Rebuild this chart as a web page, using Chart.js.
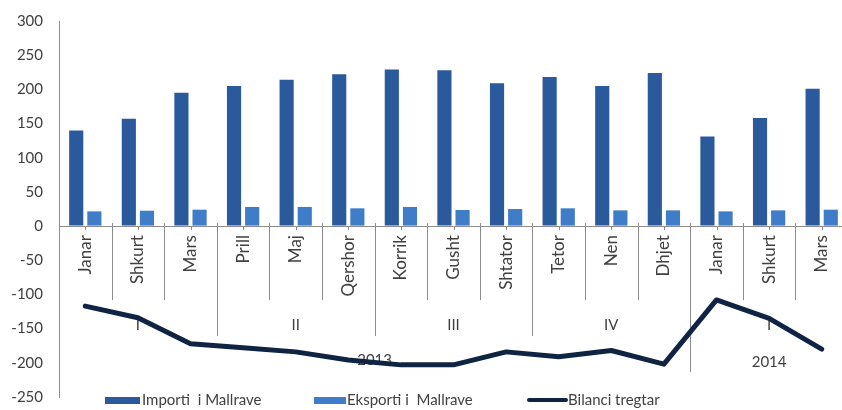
<!DOCTYPE html>
<html lang="sq">
<head>
  <meta charset="UTF-8">
  <title>Bilanci tregtar</title>
  <style>
    html, body {
      margin: 0;
      padding: 0;
      background: #fff;
      overflow: hidden;
    }

    #chart-container {
      width: 850px;
      height: 410px;
      position: relative;
    }
  </style>
</head>
<body>
  <div id="chart-container">
    <canvas id="barChart"></canvas>
  </div>

  <script src="https://cdn.jsdelivr.net/npm/chart.js"></script>
  <script>
    // te dhenat (lexuar nga grafiku)
    const muajt = ['Janar', 'Shkurt', 'Mars', 'Prill', 'Maj', 'Qershor', 'Korrik', 'Gusht', 'Shtator', 'Tetor', 'Nen', 'Dhjet', 'Janar', 'Shkurt', 'Mars'];
    const tremujoret = ['I', 'II', 'III', 'IV', 'I'];
    const vitet = ['2013', '2014'];
    const importi = [140, 157, 195, 205, 214, 222, 229, 228, 209, 218, 205, 224, 131, 158, 201];
    const eksporti = [21.5, 22.5, 24, 28, 28, 26, 28, 23.5, 25, 26, 23, 23, 21.5, 23, 24];
    const bilanci = [-117, -134, -172, -178, -184, -196, -203, -203, -184, -191, -182, -202, -108, -135, -180];

    const font = "Lato, 'Open Sans', sans-serif";
    const textColor = '#404040';
    const axisColor = '#8c8c8c';
    const darkBlue = '#2a5a9b';
    const lightBlue = '#3f7dc8';
    const lineColor = '#0f2342';

    // boshti i kategorive me dy nivele (muaj / tremujor / vit)
    const categoryAxis = {
      id: 'categoryAxis',
      beforeDatasetsDraw(chart) {
        const { ctx, chartArea, scales: { x, y } } = chart;
        const y0 = y.getPixelForValue(0);
        const half = (x.getPixelForValue(1) - x.getPixelForValue(0)) / 2;

        ctx.save();
        ctx.strokeStyle = axisColor;
        ctx.lineWidth = 1;

        // vija e boshtit
        ctx.beginPath();
        ctx.moveTo(chartArea.left, Math.round(y0) + 0.5);
        ctx.lineTo(chartArea.right, Math.round(y0) + 0.5);
        ctx.stroke();

        // vijat ndarese
        muajt.forEach((m, i) => {
          const cx = x.getPixelForValue(i);
          ctx.beginPath();
          ctx.moveTo(Math.round(cx) + 0.5, y0);
          ctx.lineTo(Math.round(cx) + 0.5, y0 + 4);
          ctx.stroke();
          if (i === muajt.length - 1) return;
          const bx = Math.round(cx + half) + 0.5;
          let len = 74;
          if ((i + 1) % 3 === 0) len = 110;
          if (i === 11) len = 146;
          ctx.beginPath();
          ctx.moveTo(bx, y0 - 3);
          ctx.lineTo(bx, y0 + len);
          ctx.stroke();
        });

        // emrat e muajve
        ctx.fillStyle = textColor;
        ctx.font = '17px ' + font;
        ctx.textAlign = 'right';
        ctx.textBaseline = 'middle';
        muajt.forEach((m, i) => {
          const cx = x.getPixelForValue(i);
          ctx.save();
          ctx.translate(cx, y0 + 9);
          ctx.rotate(-Math.PI / 2);
          ctx.fillText(m, 0, 0);
          ctx.restore();
        });

        // tremujoret
        ctx.textAlign = 'center';
        ctx.font = '15px ' + font;
        tremujoret.forEach((q, k) => {
          const i0 = k * 3;
          const cx = (x.getPixelForValue(i0) + x.getPixelForValue(i0 + 2)) / 2;
          ctx.fillText(q, cx, y0 + 99);
        });

        // vitet
        const c2013 = (x.getPixelForValue(0) + x.getPixelForValue(11)) / 2;
        const c2014 = (x.getPixelForValue(12) + x.getPixelForValue(14)) / 2;
        ctx.fillText(vitet[0], c2013, y0 + 134);
        ctx.fillText(vitet[1], c2014, y0 + 136);
        ctx.restore();
      },
      afterDraw(chart) {
        const { ctx } = chart;
        const ly = 400;
        ctx.save();
        ctx.font = '15px ' + font;
        ctx.fillStyle = textColor;
        ctx.textBaseline = 'middle';
        ctx.textAlign = 'left';

        ctx.fillStyle = darkBlue;
        ctx.fillRect(105, ly - 3, 35, 7);
        ctx.fillStyle = textColor;
        ctx.fillText('Importi  i Mallrave', 142, ly);

        ctx.fillStyle = lightBlue;
        ctx.fillRect(314, ly - 3, 32, 7);
        ctx.fillStyle = textColor;
        ctx.fillText('Eksporti i  Mallrave', 347, ly);

        ctx.strokeStyle = lineColor;
        ctx.lineWidth = 4;
        ctx.lineCap = 'round';
        ctx.beginPath();
        ctx.moveTo(529, ly);
        ctx.lineTo(566, ly);
        ctx.stroke();
        ctx.fillText('Bilanci tregtar', 568, ly);
        ctx.restore();
      }
    };

    const ctx = document.getElementById('barChart');
    new Chart(ctx, {
      type: 'bar',
      data: {
        labels: muajt,
        datasets: [
          {
            label: 'Importi  i Mallrave',
            data: importi,
            backgroundColor: darkBlue,
            barPercentage: 0.78,
            categoryPercentage: 0.69,
            order: 2
          },
          {
            label: 'Eksporti i  Mallrave',
            data: eksporti,
            backgroundColor: lightBlue,
            barPercentage: 0.78,
            categoryPercentage: 0.69,
            order: 2
          },
          {
            type: 'line',
            label: 'Bilanci tregtar',
            data: bilanci,
            borderColor: lineColor,
            borderWidth: 5,
            pointRadius: 0,
            pointHoverRadius: 0,
            tension: 0,
            borderCapStyle: 'round',
            borderJoinStyle: 'round',
            order: 1
          }
        ]
      },
      options: {
        responsive: true,
        maintainAspectRatio: false,
        animation: false,
        layout: {
          autoPadding: false,
          padding: { top: 21, right: 2, bottom: 13, left: 0 }
        },
        plugins: {
          legend: { display: false },
          tooltip: { enabled: false }
        },
        scales: {
          x: {
            display: false
          },
          y: {
            min: -250,
            max: 300,
            afterFit(scale) {
              scale.width = 59;
            },
            ticks: {
              stepSize: 50,
              padding: 2,
              color: textColor,
              font: { family: font, size: 15 }
            },
            grid: {
              drawOnChartArea: false,
              tickLength: 14,
              tickColor: 'rgba(0,0,0,0)'
            },
            border: {
              display: true,
              color: axisColor
            }
          }
        }
      },
      plugins: [categoryAxis]
    });
  </script>
</body>
</html>
